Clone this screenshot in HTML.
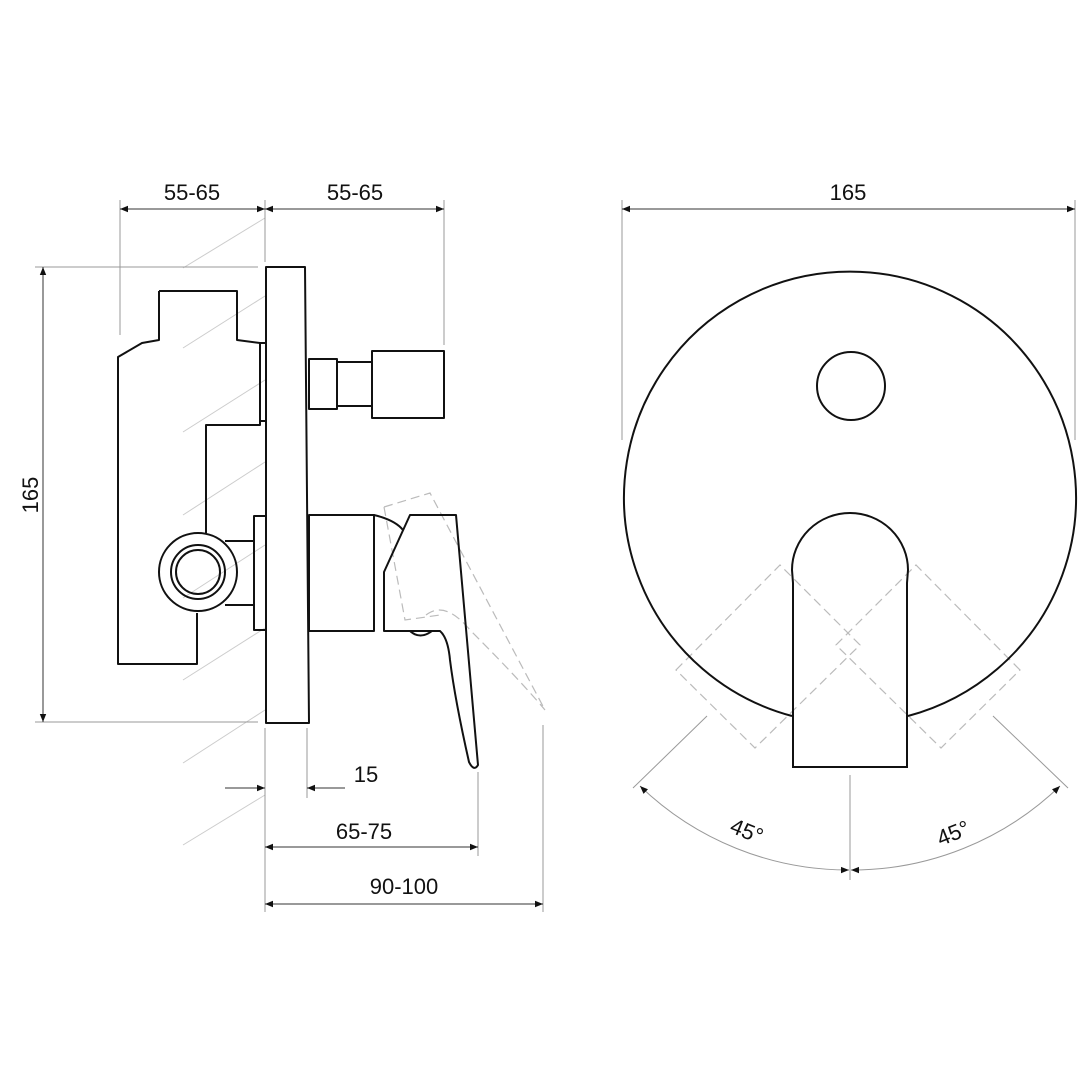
<!DOCTYPE html>
<html><head><style>body{margin:0;background:#fff}svg{display:block}text{font-family:"Liberation Sans",sans-serif;font-size:22px;fill:#111}</style></head><body>
<svg width="1080" height="1080" viewBox="0 0 1080 1080">
<defs><marker id="a" viewBox="0 0 10 10" refX="10" refY="5" markerWidth="16" markerHeight="8" orient="auto-start-reverse" markerUnits="userSpaceOnUse"><path d="M0,1L10,5L0,9z" fill="#111"/></marker></defs>
<g stroke="#ccc" stroke-width="1">
<line x1="183" y1="268" x2="265" y2="218"/><line x1="183" y1="348" x2="265" y2="296"/><line x1="183" y1="432" x2="265" y2="380"/><line x1="183" y1="515" x2="265" y2="462"/><line x1="183" y1="598" x2="265" y2="545"/><line x1="183" y1="680" x2="265" y2="628"/><line x1="183" y1="763" x2="265" y2="710"/><line x1="183" y1="845" x2="265" y2="795"/>
</g>
<g stroke="#999" stroke-width="1">
<line x1="120" y1="200" x2="120" y2="335"/><line x1="265" y1="200" x2="265" y2="262"/><line x1="444" y1="200" x2="444" y2="345"/>
<line x1="35" y1="267" x2="258" y2="267"/><line x1="35" y1="722" x2="258" y2="722"/>
<line x1="265" y1="728" x2="265" y2="912"/><line x1="307" y1="728" x2="307" y2="798"/><line x1="478" y1="772" x2="478" y2="856"/><line x1="543" y1="725" x2="543" y2="912"/>
<line x1="622" y1="200" x2="622" y2="440"/><line x1="1075" y1="200" x2="1075" y2="440"/>
<line x1="850" y1="775" x2="850" y2="880"/>
<line x1="707" y1="716" x2="633" y2="788"/><line x1="993" y1="716" x2="1068" y2="788"/>
</g>
<g stroke="#333" stroke-width="1" fill="none">
<line x1="120" y1="209" x2="265" y2="209" marker-start="url(#a)" marker-end="url(#a)"/>
<line x1="265" y1="209" x2="444" y2="209" marker-start="url(#a)" marker-end="url(#a)"/>
<line x1="43" y1="267" x2="43" y2="722" marker-start="url(#a)" marker-end="url(#a)"/>
<line x1="622" y1="209" x2="1075" y2="209" marker-start="url(#a)" marker-end="url(#a)"/>
<line x1="225" y1="788" x2="265" y2="788" marker-end="url(#a)"/><line x1="345" y1="788" x2="307" y2="788" marker-end="url(#a)"/>
<line x1="265" y1="847" x2="478" y2="847" marker-start="url(#a)" marker-end="url(#a)"/>
<line x1="265" y1="904" x2="543" y2="904" marker-start="url(#a)" marker-end="url(#a)"/>
<path d="M640,786 A300,300 0 0 0 849,870" stroke="#999" marker-start="url(#a)" marker-end="url(#a)"/>
<path d="M1060,786 A300,300 0 0 1 851,870" stroke="#999" marker-start="url(#a)" marker-end="url(#a)"/>
</g>
<text x="192" y="200" text-anchor="middle">55-65</text>
<text x="355" y="200" text-anchor="middle">55-65</text>
<text x="848" y="200" text-anchor="middle">165</text>
<text transform="translate(38,495) rotate(-90)" text-anchor="middle">165</text>
<text x="366" y="782" text-anchor="middle">15</text>
<text x="364" y="839" text-anchor="middle">65-75</text>
<text x="404" y="894" text-anchor="middle">90-100</text>
<text transform="translate(744,838) rotate(22)" text-anchor="middle">45°</text>
<text transform="translate(956,840) rotate(-22)" text-anchor="middle">45°</text>
<g stroke="#bbb" stroke-width="1.2" fill="none" stroke-dasharray="9,5">
<path d="M384,507 L430,493 L545,710 M384,507 L405,620 L440,615 M426,615 Q445,600 470,630 Q520,680 545,710"/>
<path d="M676,670 L780,565 L860,645 L755,748 Z"/>
<path d="M1020,670 L916,565 L836,645 L941,748 Z"/>
</g>
<g stroke="#111" stroke-width="2" fill="none" stroke-linejoin="round">
<path d="M266,267 L305,267 L309,723 L266,723 Z"/>
<path d="M159,291 L237,291 L237,340 L260,343 L260,425 L206,425 L206,533"/>
<path d="M159,291 L159,340 L142,343 L118,357 L118,664 L197,664 L197,613"/>
<rect x="260" y="343" width="6" height="78"/>
<circle cx="198" cy="572" r="39"/><circle cx="198" cy="572" r="27"/><circle cx="198" cy="572" r="22"/>
<path d="M225,541 L254,541 M225,605 L254,605"/>
<rect x="254" y="516" width="12" height="114"/>
<rect x="309" y="359" width="28" height="50"/>
<rect x="337" y="362" width="35" height="44"/>
<rect x="372" y="351" width="72" height="67"/>
<rect x="309" y="515" width="65" height="116"/>
<path d="M374,515 Q395,520 403,530"/>
<path d="M384,631 L384,572 L410,515 L456,515 L478,765 Q474,772 469,762 Q455,700 450,660 Q448,638 440,631 Z"/>
<path d="M410,631 Q420,640 432,631"/>
</g>
<g stroke="#111" stroke-width="2" fill="none">
<path d="M792,716 A226,226 0 1 1 908,716"/>
<circle cx="851" cy="386" r="34"/>
<path d="M793,767 L793,583 L792,570 A58,57 0 0 1 908,570 L907,583 L907,767 Z"/>
</g>
</svg>
</body></html>
